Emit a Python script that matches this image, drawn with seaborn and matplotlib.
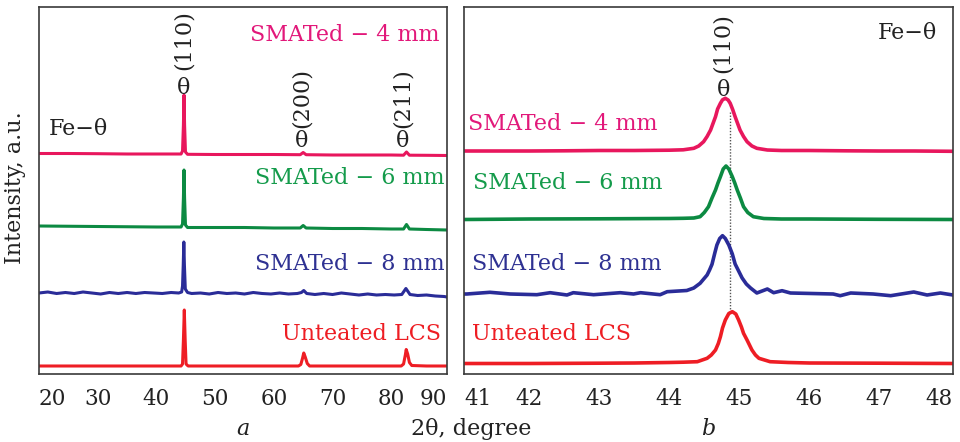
import numpy as np
import pandas as pd
import seaborn as sns
import matplotlib
matplotlib.use("Agg")
import matplotlib.pyplot as plt

# ---- data (2-theta in degrees, intensity in arbitrary units incl. vertical offset) ----
# panel a : full scan
a_pink_x = [20, 25, 30, 35, 40, 43, 44.2, 44.45, 44.6, 44.7, 44.8, 44.95, 45.3, 50, 55, 60,
            64.5, 65.0, 65.5, 70, 75, 80, 82.1, 82.6, 83.1, 86, 89.5]
a_pink_y = [220.5, 220.5, 220.3, 220, 220, 220, 220, 223, 249, 279, 249, 222, 219.7, 219.5, 219.5, 219.5,
            219.3, 221.5, 219.3, 219, 219, 219, 218.8, 222, 218.8, 218.7, 218.5]

a_green_x = [20, 30, 40, 44.2, 44.45, 44.6, 44.7, 44.8, 44.95, 45.3, 50, 55, 60, 64.5, 65.0, 65.5,
             70, 75, 80, 82.1, 82.6, 83.1, 86, 89.5]
a_green_y = [148, 147.5, 147, 147, 150, 176, 204, 176, 149, 146.5, 146.5, 146.5, 146, 146, 148.5, 146,
             145.5, 145.5, 145, 145, 149.5, 145, 144.5, 144]

a_blue_x = [20, 21.5, 23, 24.5, 26, 27.5, 29, 30.5, 32, 33.5, 35, 36.5, 38, 39.5, 41, 42.5, 43.8,
            44.3, 44.45, 44.57, 44.67, 44.77, 44.92, 45.3, 46, 47.5, 49, 50.5, 52, 53.5, 55, 56.5,
            58, 59.5, 61, 62.5, 64, 64.7, 65.1, 65.6, 67, 68.5, 70, 71.5, 73, 74.5, 76, 77.5, 79,
            80.5, 81.8, 82.5, 83.2, 84.5, 86, 87.5, 89, 89.5]
a_blue_py = [293, 292, 293.5, 292.5, 293.5, 292, 293, 294, 292.5, 293.5, 292.5, 293.5, 292.5, 293,
             293.5, 292.5, 293, 292, 286, 265, 242, 265, 289, 292.5, 293.5, 293, 294, 292.5, 293.5,
             293, 294, 292.5, 293.5, 294, 293, 294, 293.5, 292.5, 290.5, 293.5, 294.5, 293.5, 294.5,
             293, 294, 295, 294, 295, 294.5, 295, 294.5, 288.5, 294.5, 295.5, 295, 296, 296.5, 297]
a_blue_y = [374 - v for v in a_blue_py]

a_red_x = [20, 30, 40, 44.2, 44.45, 44.6, 44.75, 44.9, 45.05, 45.4, 50, 55, 60, 64.2, 64.6, 64.9,
           65.1, 65.35, 65.7, 66.1, 70, 75, 80, 81.7, 82.1, 82.4, 82.55, 82.8, 83.1, 83.5, 86, 89.5]
a_red_py = [366, 366, 366, 366, 364, 340, 310, 340, 364, 366, 366, 366, 366, 366, 364.5, 358,
            353, 357, 363.5, 366, 366, 366, 366, 366, 364, 355, 349.5, 354, 362.5, 365.5, 366, 366]
a_red_y = [374 - v for v in a_red_py]

# panel b : zoom on the (110) reflection
b_pink_x = [41.07, 41.5, 42, 42.5, 43, 43.5, 44, 44.2, 44.35, 44.42, 44.49, 44.54, 44.59, 44.66,
            44.69, 44.73, 44.76, 44.8, 44.84, 44.87, 44.905, 44.94, 45.01, 45.06, 45.11, 45.18,
            45.25, 45.4, 45.6, 46, 46.5, 47, 47.5, 48.05]
b_pink_py = [151, 151, 151, 150.8, 150.5, 150.5, 150.2, 149.8, 148.3, 146, 141.7, 136.5, 130, 116.7,
             109, 103.3, 99.8, 98.3, 100, 103.3, 109.5, 116.7, 130, 136.5, 141.7, 146,
             148.3, 150, 150.5, 150.5, 150.8, 151, 151, 151.3]
b_pink_y = [374 - v for v in b_pink_py]

b_green_x = [41.07, 42, 43, 44, 44.2, 44.35, 44.44, 44.5, 44.56, 44.61, 44.66, 44.695, 44.73, 44.77,
             44.81, 44.85, 44.9, 44.935, 44.97, 45.015, 45.06, 45.12, 45.2, 45.35, 45.6, 46, 47, 48.05]
b_green_py = [219.5, 219, 218.8, 218.5, 218.3, 218, 216.7, 212.5, 206.7, 198, 190, 183, 176.7, 169,
              166, 169, 176.7, 183, 190, 198, 206.7, 212.5, 216.7, 218.5, 219, 219, 219.3, 219.5]
b_green_y = [374 - v for v in b_green_py]

b_blue_x = [41.07, 41.11, 41.44, 41.73, 42.11, 42.3, 42.54, 42.63, 42.92, 43.3, 43.49, 43.59, 43.87,
            43.97, 44.25, 44.35, 44.44, 44.54, 44.575, 44.61, 44.65, 44.68, 44.72, 44.76, 44.8,
            44.85, 44.9, 44.94, 44.99, 45.04, 45.1, 45.16, 45.25, 45.4, 45.49, 45.61, 45.73, 46.34,
            46.44, 46.59, 46.91, 47.16, 47.49, 47.68, 47.87, 48.05]
b_blue_py = [294, 294, 292.3, 294, 294.7, 292.7, 295, 292.7, 294.7, 292.7, 294, 292.7, 294.7, 291.7,
             290.5, 288, 283.3, 275, 270, 264.3, 253, 245, 238.5, 235.7, 238.5, 245, 254, 264, 271,
             278, 284, 288, 293, 289, 292.7, 290.7, 293, 294, 295.7, 293, 294, 295.7, 292, 295,
             293, 295]
b_blue_y = [374 - v for v in b_blue_py]

b_red_x = [41.07, 42, 43, 43.5, 44, 44.2, 44.4, 44.54, 44.6, 44.66, 44.7, 44.73, 44.76, 44.8, 44.85,
           44.9, 44.95, 44.99, 45.03, 45.06, 45.11, 45.145, 45.18, 45.23, 45.28, 45.44, 45.7, 46,
           47, 48.05]
b_red_py = [363.5, 363.5, 363.2, 363, 362.5, 362.2, 361.7, 358.3, 355, 350, 343.5, 336.7, 328, 320,
            313.5, 311.7, 314, 320, 327, 333.3, 340, 345, 350, 355, 358.3, 361.7, 362.5, 363,
            363.2, 363.5]
b_red_y = [374 - v for v in b_red_py]

a_ticks = [20, 30, 40, 50, 60, 70, 80, 89.5]
a_ticklabels = ['20', '30', '40', '50', '60', '70', '80', '90']
b_ticks = [41.07, 42, 43, 44, 45, 46, 47, 48.05]
b_ticklabels = ['41', '42', '43', '44', '45', '46', '47', '48']

series_names = ['SMATed \u2212 4 mm', 'SMATed \u2212 6 mm', 'SMATed \u2212 8 mm', 'Unteated LCS']
line_colors = ['#E8175D', '#0C8A42', '#2A2C98', '#EE1D24']
text_colors = ['#E2187A', '#149B4B', '#2E3192', '#EE1D23']

ref_line_x = 44.87

sns.set_style('white')
plt.rcParams['font.family'] = ['DejaVu Serif']
plt.rcParams['lines.solid_joinstyle'] = 'round'
plt.rcParams['lines.solid_capstyle'] = 'round'
FS = 16

fig = plt.figure(figsize=(9.6, 4.42), dpi=100)
ax1 = fig.add_axes([39 / 960, 68 / 442, 408 / 960, 367 / 442])
ax2 = fig.add_axes([464 / 960, 68 / 442, 489 / 960, 367 / 442])

for xs, ys, c in zip([a_pink_x, a_green_x, a_blue_x, a_red_x],
                     [a_pink_y, a_green_y, a_blue_y, a_red_y], line_colors):
    sns.lineplot(x=xs, y=ys, ax=ax1, color=c, lw=2.2, estimator=None, sort=False)

for xs, ys, c in zip([b_pink_x, b_green_x, b_blue_x, b_red_x],
                     [b_pink_y, b_green_y, b_blue_y, b_red_y], line_colors):
    sns.lineplot(x=xs, y=ys, ax=ax2, color=c, lw=2.6, estimator=None, sort=False)

ax2.vlines(ref_line_x, 62, 262, colors='#555555', linestyles=(0, (1, 1.2)), lw=1.0, zorder=1)

for ax, lim, ticks, labels in [(ax1, (20, 89.5), a_ticks, a_ticklabels),
                               (ax2, (41.07, 48.05), b_ticks, b_ticklabels)]:
    ax.set_xlim(*lim)
    ax.set_ylim(0, 367)
    ax.set_yticks([])
    ax.set_xticks(ticks)
    ax.set_xticklabels(labels, fontsize=15.5)
    ax.tick_params(axis='x', direction='in', length=5, width=1, pad=10, colors='#222222')
    tl = ax.get_xticklabels()
    tl[0].set_ha('left')
    tl[-1].set_ha('right')
    for s in ax.spines.values():
        s.set_color('#3a3a3a')
        s.set_linewidth(1.2)

# panel a annotations
a_lab_x = [88.2, 89.05, 89.05, 88.5]
a_lab_y = [339, 196, 110, 40]
for name, c, x, y in zip(series_names, text_colors, a_lab_x, a_lab_y):
    ax1.text(x, y, name, color=c, fontsize=FS, ha='right', va='center')
ax1.text(21.7, 245, 'Fe\u2212\u03b8', fontsize=FS, ha='left', va='center', color='#222222')
for hkl, x, y_hkl, y_th in [('(110)', 44.66, 334, 286), ('(200)', 64.8, 276, 233), ('(211)', 81.9, 276, 233)]:
    ax1.text(x, y_hkl, hkl, rotation=90, fontsize=FS, ha='center', va='center', color='#222222')
    ax1.text(x, y_th, '\u03b8', fontsize=FS, ha='center', va='center', color='#222222')

# panel b annotations
b_lab_x = [41.13, 41.2, 41.19, 41.19]
b_lab_y = [250.5, 191, 110, 40]
for name, c, x, y in zip(series_names, text_colors, b_lab_x, b_lab_y):
    ax2.text(x, y, name, color=c, fontsize=FS, ha='left', va='center')
ax2.text(47.82, 341, 'Fe\u2212\u03b8', fontsize=FS, ha='right', va='center', color='#222222')
ax2.text(44.77, 331, '(110)', rotation=90, fontsize=FS, ha='center', va='center', color='#222222')
ax2.text(44.77, 284, '\u03b8', fontsize=FS, ha='center', va='center', color='#222222')

fig.text(15 / 960, 1 - 188 / 442, 'Intensity, a.u.', rotation=90, fontsize=FS, ha='center', va='center', color='#222222')
fig.text(243 / 960, 1 - 429 / 442, 'a', fontsize=FS, style='italic', ha='center', va='center', color='#222222')
fig.text(471 / 960, 1 - 429 / 442, '2\u03b8, degree', fontsize=FS, ha='center', va='center', color='#222222')
fig.text(708 / 960, 1 - 429 / 442, 'b', fontsize=FS, style='italic', ha='center', va='center', color='#222222')

fig.savefig('out.png', dpi=100, facecolor='white')
